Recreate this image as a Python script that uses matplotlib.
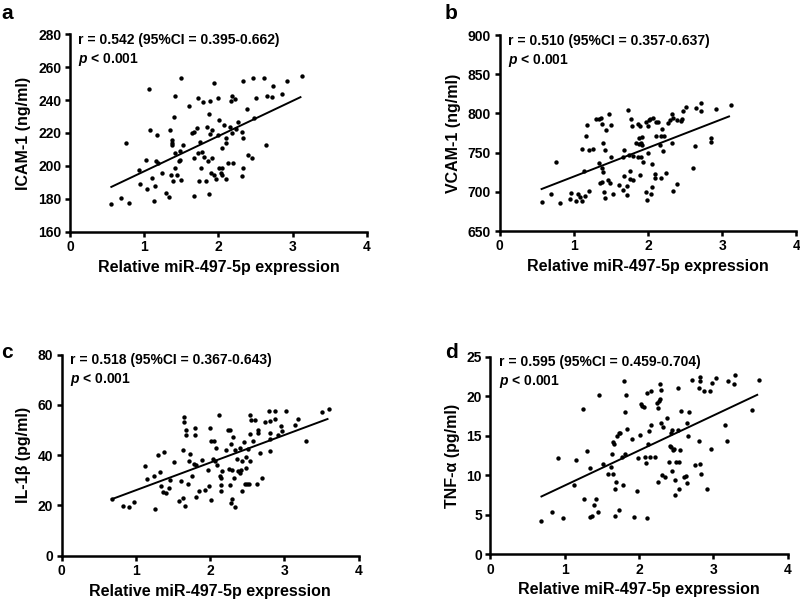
import numpy as np
import matplotlib
matplotlib.use("Agg")
import matplotlib.pyplot as plt

plt.rcParams['font.family'] = ['Liberation Sans', 'DejaVu Sans']
plt.rcParams['font.weight'] = 'bold'
plt.rcParams['mathtext.fontset'] = 'custom'
plt.rcParams['mathtext.bfit'] = 'Liberation Sans:italic:bold'
plt.rcParams['mathtext.it'] = 'Liberation Sans:italic:bold'

xlabel = "Relative miR-497-5p expression"

# panel a: ICAM-1
a_x = [0.557, 0.684, 0.752, 0.80, 0.93, 0.95, 1.03, 1.04, 1.07, 1.08, 1.105, 1.137, 1.146, 1.17,
       1.155, 1.18, 1.245, 1.30, 1.336, 1.345, 1.355, 1.372, 1.377, 1.38, 1.386, 1.40, 1.41, 1.42,
       1.42, 1.445, 1.463, 1.486, 1.50, 1.50, 1.527, 1.48, 1.61, 1.645, 1.667, 1.67, 1.67, 1.71,
       1.726, 1.73, 1.744, 1.757, 1.767, 1.776, 1.79, 1.80, 1.835, 1.853, 1.866, 1.88, 1.885, 1.88,
       1.885, 1.90, 1.91, 1.92, 1.934, 1.943, 1.97, 1.99, 2.00, 2.01, 2.01, 2.03, 2.043, 2.05, 2.055,
       2.08, 2.097, 2.106, 2.106, 2.13, 2.16, 2.17, 2.18, 2.19, 2.197, 2.224, 2.24, 2.27, 2.32, 2.33,
       2.324, 2.33, 2.337, 2.387, 2.396, 2.455, 2.46, 2.478, 2.51, 2.61, 2.645, 2.655, 2.72, 2.73,
       2.86, 2.926, 3.126]
a_y = [176.8, 180.7, 213.7, 177.6, 197.5, 188.8, 203.8, 185.7, 246.5, 221.8, 192.8, 178.6, 187.8, 219.0,
       202.8, 202.0, 195.7, 183.3, 181.0, 221.8, 194.6, 212.7, 216.0, 214.0, 190.8, 229.5, 207.8, 242.7,
       198.7, 194.6, 203.0, 208.8, 253.6, 191.6, 212.5, 203.8, 236.6, 219.8, 220.6, 204.8, 181.7, 222.8,
       241.5, 207.8, 190.8, 214.7, 198.9, 208.6, 238.8, 205.6, 190.8, 223.6, 203.0, 231.5, 219.6, 182.7,
       239.2, 195.7, 204.6, 221.8, 250.6, 194.6, 191.8, 241.5, 218.6, 227.7, 198.7, 195.9, 194.6, 210.9, 198.7,
       224.8, 213.7, 216.7, 191.8, 201.7, 223.6, 239.6, 242.7, 219.8, 201.7, 240.9, 222.6, 226.9, 220.6, 216.7,
       193.8, 198.7, 251.6, 234.6, 206.8, 204.8, 253.6, 228.9, 241.5, 253.6, 212.7, 242.7, 241.7, 248.6,
       243.7, 251.6, 254.6]

# panel b: VCAM-1
b_x = [0.567, 0.693, 0.76, 0.81, 0.945, 0.963, 1.035, 1.06, 1.084, 1.107, 1.115, 1.143, 1.15, 1.17,
       1.18, 1.20, 1.205, 1.26, 1.30, 1.34, 1.345, 1.35, 1.372, 1.376, 1.38, 1.385, 1.39, 1.394, 1.403,
       1.426, 1.426, 1.44, 1.466, 1.475, 1.493, 1.50, 1.507, 1.53, 1.606, 1.66, 1.664, 1.673, 1.678,
       1.714, 1.718, 1.727, 1.75, 1.759, 1.759, 1.777, 1.78, 1.795, 1.80, 1.835, 1.86, 1.87, 1.88, 1.88,
       1.89, 1.894, 1.903, 1.91, 1.92, 1.925, 1.934, 1.97, 1.975, 1.99, 2.00, 2.00, 2.015, 2.024, 2.04,
       2.05, 2.06, 2.065, 2.09, 2.10, 2.11, 2.11, 2.137, 2.16, 2.17, 2.18, 2.186, 2.204, 2.213, 2.245,
       2.276, 2.30, 2.326, 2.33, 2.335, 2.344, 2.39, 2.393, 2.45, 2.456, 2.47, 2.51, 2.61, 2.64, 2.65,
       2.72, 2.72, 2.85, 2.856, 2.92, 3.113]
b_y = [687.0, 697.6, 738.0, 685.3, 690.8, 698.0, 688.7, 697.2, 692.9, 687.8, 754.6, 727.0, 695.0, 770.7,
       784.8, 700.6, 753.3, 754.2, 792.9, 736.3, 793.3, 711.2, 793.7, 786.9, 730.4, 712.5, 762.7, 725.7, 699.7,
       691.7, 753.3, 779.3, 715.5, 799.2, 710.8, 784.8, 744.4, 697.2, 708.3, 744.0, 702.3, 753.3, 720.6,
       707.4, 696.3, 804.8, 747.0, 716.8, 726.5, 792.9, 784.4, 714.6, 745.7, 762.7, 744.0, 786.5, 761.4, 769.0,
       721.4, 783.9, 761.8, 744.0, 769.9, 759.3, 738.0, 789.0, 700.2, 689.5, 749.1, 784.4, 791.6, 792.9, 697.2,
       735.9, 705.7, 794.6, 717.2, 722.3, 771.2, 789.0, 789.0, 759.3, 717.6, 771.2, 779.7, 751.6, 771.2, 724.4,
       787.8, 791.6, 798.8, 762.7, 701.0, 794.6, 791.6, 710.4, 790.7, 792.9, 803.5, 807.7, 730.8, 758.4, 807.3,
       812.8, 803.1, 768.2, 764.0, 805.2, 810.3]

# panel c: IL-1beta
c_x = [0.677, 0.826, 0.912, 0.97, 1.124, 1.15, 1.24, 1.26, 1.30, 1.332, 1.336, 1.368, 1.386, 1.41,
       1.445, 1.458, 1.51, 1.58, 1.61, 1.63, 1.64, 1.652, 1.652, 1.665, 1.675, 1.68, 1.697, 1.715,
       1.725, 1.76, 1.784, 1.79, 1.797, 1.805, 1.815, 1.846, 1.896, 1.928, 1.97, 1.98, 2.00, 2.014,
       2.018, 2.045, 2.054, 2.072, 2.08, 2.09, 2.113, 2.13, 2.144, 2.144, 2.15, 2.163, 2.217, 2.24,
       2.253, 2.262, 2.27, 2.28, 2.284, 2.29, 2.31, 2.316, 2.334, 2.29, 2.334, 2.36, 2.38, 2.40, 2.40,
       2.41, 2.424, 2.43, 2.46, 2.47, 2.48, 2.487, 2.497, 2.505, 2.52, 2.533, 2.533, 2.537, 2.555,
       2.58, 2.60, 2.63, 2.64, 2.65, 2.668, 2.704, 2.74, 2.794, 2.80, 2.80, 2.808, 2.81, 2.87, 2.876,
       2.91, 2.957, 2.966, 3.025, 3.138, 3.187, 3.287, 3.50, 3.60]
c_y = [22.5, 19.6, 19.3, 21.2, 35.6, 30.5, 31.6, 18.7, 40.1, 33.2, 27.6, 25.3, 41.2, 24.9,
       26.9, 30.3, 37.2, 21.6, 29.6, 22.8, 42.0, 55.3, 53.2, 19.6, 49.9, 48.1, 28.5, 37.5,
       40.3, 31.9, 36.4, 50.8, 48.1, 36.1, 23.2, 25.6, 38.0, 26.3, 34.0, 27.6, 50.8, 22.3,
       45.7, 38.5, 45.7, 37.5, 42.9, 35.9, 56.1, 31.6, 30.9, 28.1, 25.6, 33.6, 41.9, 49.9,
       34.5, 28.1, 50.1, 44.3, 20.9, 34.3, 47.2, 31.1, 19.3, 22.7, 41.9, 38.3, 33.6, 42.8, 32.9,
       34.0, 25.7, 37.6, 45.2, 28.7, 34.9, 39.3, 28.7, 42.3, 28.7, 48.4, 37.5, 56.0, 54.1,
       45.6, 54.0, 28.7, 48.8, 50.0, 40.7, 31.1, 53.2, 57.5, 48.7, 53.6, 41.5, 46.3, 57.5, 54.5,
       47.9, 51.6, 49.7, 57.5, 51.9, 54.5, 45.7, 57.2, 58.5]

# panel d: TNF-alpha
d_x = [0.686, 0.83, 0.912, 0.975, 1.128, 1.155, 1.246, 1.264, 1.305, 1.336, 1.34, 1.363, 1.39, 1.418,
       1.45, 1.467, 1.52, 1.58, 1.62, 1.64, 1.643, 1.652, 1.657, 1.67, 1.68, 1.688, 1.70, 1.725, 1.733,
       1.742, 1.77, 1.788, 1.797, 1.806, 1.81, 1.83, 1.84, 1.90, 1.937, 1.968, 1.99, 2.01, 2.023, 2.04,
       2.07, 2.08, 2.09, 2.10, 2.11, 2.126, 2.14, 2.149, 2.16, 2.167, 2.217, 2.24, 2.248, 2.26, 2.27,
       2.275, 2.284, 2.289, 2.30, 2.31, 2.32, 2.343, 2.37, 2.397, 2.415, 2.424, 2.433, 2.438, 2.44, 2.45,
       2.474, 2.478, 2.487, 2.496, 2.52, 2.527, 2.532, 2.536, 2.545, 2.564, 2.605, 2.632, 2.64, 2.645,
       2.655, 2.677, 2.713, 2.754, 2.813, 2.82, 2.82, 2.813, 2.82, 2.83, 2.88, 2.91, 2.96, 2.97, 2.98,
       3.034, 3.15, 3.187, 3.20, 3.277, 3.29, 3.52, 3.61]
d_y = [4.23, 5.29, 12.14, 4.61, 8.71, 11.93, 18.32, 7.02, 13.11, 4.74, 10.91, 4.86, 6.22, 7.02,
       5.29, 20.14, 11.38, 10.11, 11.0, 12.69, 10.11, 14.17, 13.96, 4.86, 8.21, 9.18, 15.02, 15.36, 5.63,
       15.36, 12.27, 8.8, 21.91, 17.94, 12.73, 20.14, 15.82, 14.55, 4.7, 8.04, 12.14, 15.1, 18.99, 18.82,
       18.6, 12.31, 11.51, 20.43, 4.65, 14.0, 15.6, 12.31, 16.41, 20.6, 12.31, 19.2, 18.57, 9.18, 19.4,
       21.5, 19.67, 20.77, 16.62, 10.03, 16.12, 9.81, 17.3, 11.72, 13.75, 15.36, 13.54, 10.58, 15.69, 13.24,
       13.33, 9.39, 7.49, 11.72, 15.69, 21.02, 8.21, 11.72, 13.2, 18.15, 9.81, 9.94, 16.67, 9.01,
       15.02, 18.06, 22.04, 11.34, 14.34, 22.38, 21.87, 21.02, 11.42, 10.11, 20.64, 8.21, 20.64, 13.33, 21.62,
       22.29, 16.37, 14.38, 21.91, 21.53, 22.67, 18.27, 22.04]

# fitted lines (slope, intercept)
fits = [(21.4, 175.3), (36.67, 682.8), (10.99, 15.06), (4.427, 4.28)]
r_texts = ["r = 0.542 (95%CI = 0.395-0.662)", "r = 0.510 (95%CI = 0.357-0.637)",
           "r = 0.518 (95%CI = 0.367-0.643)", "r = 0.595 (95%CI = 0.459-0.704)"]
ylabels = ["ICAM-1 (ng/ml)", "VCAM-1 (ng/ml)", "IL-1β (pg/ml)", "TNF-α (pg/ml)"]
yticks = [np.arange(160, 281, 20), np.arange(650, 901, 50), np.arange(0, 81, 20), np.arange(0, 26, 5)]
letters = ["a", "b", "c", "d"]

xs = [a_x, b_x, c_x, d_x]
ys = [a_y, b_y, c_y, d_y]

positions = [[0.0875, 0.6145, 0.371, 0.3285],
             [0.6244, 0.6156, 0.371, 0.3260],
             [0.0769, 0.0754, 0.3715, 0.3344],
             [0.6131, 0.0777, 0.3715, 0.3288]]
letter_pos = [(0.002, 0.968), (0.556, 0.968), (0.002, 0.405), (0.556, 0.405)]

fig = plt.figure(figsize=(8, 6.01), dpi=100)

for i in range(4):
    ax = fig.add_axes(positions[i])
    x = np.array(xs[i])
    y = np.array(ys[i])
    ax.scatter(x, y, s=10, color='black', linewidths=0, zorder=3)
    slope, icpt = fits[i]
    lx = np.array([x.min(), x.max() - 0.02])
    ax.plot(lx, slope * lx + icpt, color='black', lw=1.4)

    ax.set_xlim(0, 4)
    ax.set_ylim(yticks[i][0], yticks[i][-1])
    ax.set_xticks([0, 1, 2, 3, 4])
    ax.set_yticks(yticks[i])
    for s in ['top', 'right']:
        ax.spines[s].set_visible(False)
    for s in ['left', 'bottom']:
        ax.spines[s].set_linewidth(1.8)
    ax.tick_params(width=1.8, length=3.6, labelsize=10, pad=2.5)
    for lab in ax.get_xticklabels() + ax.get_yticklabels():
        lab.set_fontweight('bold')

    ax.set_xlabel(xlabel, fontsize=11.5, fontweight='bold', labelpad=4)
    ax.set_ylabel(ylabels[i], fontsize=11.5, fontweight='bold', labelpad=5)

    ax.annotate(r_texts[i], xy=(0, 1), xycoords='axes fraction', xytext=(6, 1),
                textcoords='offset points', va='top', ha='left', fontsize=10, fontweight='bold')
    ax.annotate(r'$\mathit{p}$ < 0.001', xy=(0, 1), xycoords='axes fraction', xytext=(6, -12),
                textcoords='offset points', va='top', ha='left', fontsize=10, fontweight='bold')

    fig.text(letter_pos[i][0], letter_pos[i][1], letters[i], fontsize=15, fontweight='bold',
             ha='left', va='baseline')

fig.savefig("out.png", dpi=100)
